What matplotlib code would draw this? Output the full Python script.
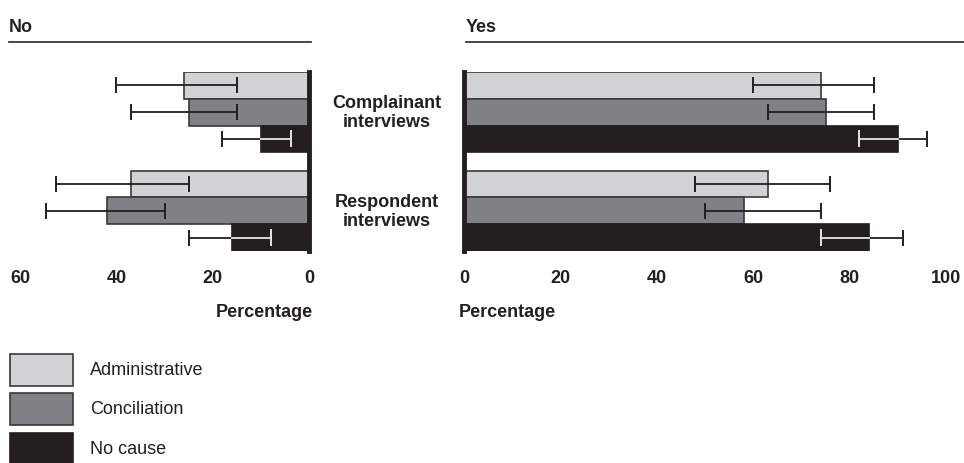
import matplotlib
matplotlib.use("Agg")
import matplotlib.pyplot as plt
import matplotlib.transforms as mtransforms
from matplotlib.patches import Rectangle
from matplotlib.lines import Line2D
import numpy as np

plt.rcParams['font.family'] = ['Liberation Sans', 'DejaVu Sans']

# data
groups = ["Complainant\ninterviews", "Respondent\ninterviews"]
series = ["Administrative", "Conciliation", "No cause"]
colors = ["#d1d2d4", "#808184", "#231f20"]

# "No" side (percent)
no_admin = [26, 37]
no_conc = [25, 42]
no_nocause = [10, 16]
no_admin_ci = [[15, 40], [25, 52.5]]
no_conc_ci = [[15, 37], [30, 54.5]]
no_nocause_ci = [[3.8, 18], [7.9, 25]]

# "Yes" side (percent)
yes_admin = [74, 63]
yes_conc = [75, 58]
yes_nocause = [90, 84]
yes_admin_ci = [[60, 85], [48, 76]]
yes_conc_ci = [[63, 85], [50, 74]]
yes_nocause_ci = [[82, 96], [74, 91]]

no_tick_labels = ["60", "40", "20", "0"]
yes_tick_labels = ["0", "20", "40", "60", "80", "100"]

W, H = 964, 464
fig = plt.figure(figsize=(W / 100, H / 100), dpi=100)

def fx(px):
    return px / W

def fy(py):
    return 1 - py / H

gap = 0.69
ypos = [[g * (3 + gap) + s for g in range(2)] for s in range(3)]
ylim = (3 + gap + 2 + 0.5, -0.5)

ax_no = fig.add_axes([fx(20), fy(252), fx(309) - fx(20), (252 - 73) / H])
ax_yes = fig.add_axes([fx(464), fy(252), fx(946) - fx(464), (252 - 73) / H])

dark = "#231f20"

def draw(ax, vals, cis):
    for s in range(3):
        for g in range(2):
            v = vals[s][g]
            y = ypos[s][g]
            ec = "#3a3a3a" if s < 2 else colors[s]
            ax.barh(y, v, height=1.0, color=colors[s], edgecolor=ec, linewidth=1.2, zorder=2)
            lo, hi = cis[s][g]
            ax.errorbar((lo + hi) / 2, y, xerr=(hi - lo) / 2, fmt="none",
                        ecolor=dark, elinewidth=1.3, capsize=5.5, capthick=1.4, zorder=3)
            if s == 2:
                # part of the whisker that sits inside the black bar in white
                ax.plot([lo, min(hi, v)], [y, y], color="#e6e6e6", lw=1.3, zorder=4)
                if lo < v:
                    ax.plot([lo, lo], [y - 0.28, y + 0.28], color="#e6e6e6", lw=1.4, zorder=4)
                if hi < v:
                    ax.plot([hi, hi], [y - 0.28, y + 0.28], color="#e6e6e6", lw=1.4, zorder=4)
    ax.axvline(0, color=dark, lw=3.5, zorder=5, clip_on=False)
    ax.set_ylim(ylim)
    ax.set_yticks([])
    for sp in ax.spines.values():
        sp.set_visible(False)
    ax.tick_params(axis="x", length=0, pad=13, labelsize=13)

draw(ax_no, [no_admin, no_conc, no_nocause], [no_admin_ci, no_conc_ci, no_nocause_ci])
ax_no.set_xlim(60, 0)
ax_no.set_xticks([int(t) for t in no_tick_labels])
ax_no.set_xticklabels(no_tick_labels, fontweight="bold", color=dark)

draw(ax_yes, [yes_admin, yes_conc, yes_nocause], [yes_admin_ci, yes_conc_ci, yes_nocause_ci])
ax_yes.set_xlim(0, 100)
ax_yes.set_xticks([int(t) for t in yes_tick_labels])
ax_yes.set_xticklabels(yes_tick_labels, fontweight="bold", color=dark)

# group labels between panels
trans = mtransforms.blended_transform_factory(fig.transFigure, ax_yes.transData)
for g, name in enumerate(groups):
    yc = ypos[1][g]
    ax_yes.text(fx(387), yc, name, transform=trans, ha="center", va="center",
                fontsize=13, fontweight="bold", color=dark, linespacing=1.1)

# headers and rules
fig.text(fx(9), fy(27), "No", fontsize=13, fontweight="bold", color=dark, va="center")
fig.text(fx(466), fy(27), "Yes", fontsize=13, fontweight="bold", color=dark, va="center")
fig.add_artist(Line2D([fx(9), fx(311)], [fy(43), fy(43)], color="#3a3a3a", lw=1.3))
fig.add_artist(Line2D([fx(466), fx(964)], [fy(43), fy(43)], color="#3a3a3a", lw=1.3))

fig.text(fx(313), fy(313), "Percentage", fontsize=13, fontweight="bold", color=dark,
         ha="right", va="center")
fig.text(fx(459), fy(313), "Percentage", fontsize=13, fontweight="bold", color=dark,
         ha="left", va="center")

# legend
box_top = [355, 394, 434]
for i, name in enumerate(series):
    ec = "#3a3a3a" if i < 2 else colors[i]
    fig.add_artist(Rectangle((fx(10), fy(box_top[i] + 32)), fx(63), 32 / H,
                             facecolor=colors[i], edgecolor=ec, lw=1.2))
    fig.text(fx(90), fy(box_top[i] + 16), name, fontsize=13, color=dark, va="center")

fig.savefig("out.png", dpi=100)
